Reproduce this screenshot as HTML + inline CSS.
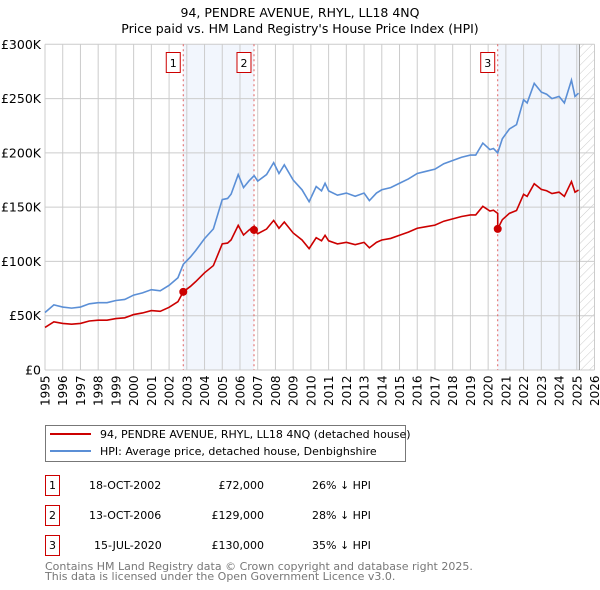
<!DOCTYPE html>
<html><head><meta charset="utf-8"><style>
body{margin:0;background:#fff;font-family:"DejaVu Sans","Liberation Sans",sans-serif;}
svg{display:block}
</style></head><body>
<svg id="chart" width="600" height="590" viewBox="0 0 600 590" xmlns="http://www.w3.org/2000/svg">
<text x="300" y="17" text-anchor="middle" font-size="12.5" fill="#000">94, PENDRE AVENUE, RHYL, LL18 4NQ</text>
<text x="300" y="33" text-anchor="middle" font-size="12.5" fill="#000">Price paid vs. HM Land Registry's House Price Index (HPI)</text>
<defs><pattern id="hatch" width="6" height="6" patternUnits="userSpaceOnUse" patternTransform="rotate(45)"><line x1="0" y1="0" x2="0" y2="6" stroke="#ccc" stroke-width="1"/></pattern></defs>
<g id="shade"></g><g id="grid"></g><g id="series"></g><g id="axes"></g>
<g>
<rect x="45.5" y="425.5" width="360" height="36" fill="#fff" stroke="#777"/>
<line x1="50" y1="434" x2="91" y2="434" stroke="#cc0000" stroke-width="2"/>
<text x="100" y="438" font-size="11">94, PENDRE AVENUE, RHYL, LL18 4NQ (detached house)</text>
<line x1="50" y1="451" x2="91" y2="451" stroke="#5b8fd6" stroke-width="2"/>
<text x="100" y="455" font-size="11">HPI: Average price, detached house, Denbighshire</text>
</g>
<g font-size="11">
<rect x="45.5" y="475.5" width="14" height="20" fill="none" stroke="#cc0000"/><text x="52.5" y="489" text-anchor="middle">1</text>
<text x="89" y="489">18-OCT-2002</text><text x="264" y="489" text-anchor="end">£72,000</text><text x="312" y="489">26% ↓ HPI</text>
<rect x="45.5" y="505.5" width="14" height="20" fill="none" stroke="#cc0000"/><text x="52.5" y="519" text-anchor="middle">2</text>
<text x="89" y="519">13-OCT-2006</text><text x="264" y="519" text-anchor="end">£129,000</text><text x="312" y="519">28% ↓ HPI</text>
<rect x="45.5" y="535.5" width="14" height="20" fill="none" stroke="#cc0000"/><text x="52.5" y="549" text-anchor="middle">3</text>
<text x="94" y="549">15-JUL-2020</text><text x="264" y="549" text-anchor="end">£130,000</text><text x="312" y="549">35% ↓ HPI</text>
</g>
<text x="45" y="570" font-size="11" fill="#777">Contains HM Land Registry data © Crown copyright and database right 2025.</text>
<text x="45" y="580" font-size="11" fill="#777">This data is licensed under the Open Government Licence v3.0.</text>
</svg>
<script>
const hpiYears=[1995,1995.5,1996,1996.5,1997,1997.5,1998,1998.5,1999,1999.5,2000,2000.5,2001,2001.5,2002,2002.5,2002.8,2003.2,2003.5,2004,2004.5,2005,2005.3,2005.5,2005.9,2006.2,2006.5,2006.8,2007,2007.5,2007.9,2008.2,2008.5,2009,2009.5,2009.9,2010.3,2010.6,2010.8,2011,2011.5,2012,2012.5,2013,2013.3,2013.7,2014,2014.5,2015,2015.5,2016,2016.5,2017,2017.5,2018,2018.5,2019,2019.3,2019.7,2020.1,2020.3,2020.54,2020.8,2021.2,2021.6,2022,2022.2,2022.6,2023,2023.3,2023.6,2024,2024.3,2024.7,2024.9,2025.1];
const hpiValues=[53,60,58,57,58,61,62,62,64,65,69,71,74,73,78,85,97.3,104,110,121,130,157,158,162,180,168,174,179,174,180,191,181,189,175,166,155,169,165,172,165,161,163,160,163,156,163,166,168,172,176,181,183,185,190,193,196,198,198,209,203,204,200,213,222,226,249,246,264,256,254,250,252,246,267,252,255];
const saleDates=[2002.8,2006.79,2020.54];
const salePrices=[72,129,130];
const yTickValues=[0,50,100,150,200,250,300];
const yTickLabels=["£0","£50K","£100K","£150K","£200K","£250K","£300K"];
const xTickYears=[1995,1996,1997,1998,1999,2000,2001,2002,2003,2004,2005,2006,2007,2008,2009,2010,2011,2012,2013,2014,2015,2016,2017,2018,2019,2020,2021,2022,2023,2024,2025,2026];
const dataEnd=2025.15;

const X0=45,X1=594.5,Y0=370,Y1=44.3;
const xs=y=>X0+(y-1995)/(2026-1995)*(X1-X0);
const ys=v=>Y0-v/300*(Y0-Y1);
const NS="http://www.w3.org/2000/svg";
function mk(tag,attrs,parent){const e=document.createElementNS(NS,tag);for(const k in attrs)e.setAttribute(k,attrs[k]);parent.appendChild(e);return e;}
function hpiAt(t){for(let i=0;i<hpiYears.length-1;i++){if(t>=hpiYears[i]&&t<=hpiYears[i+1]){const f=(t-hpiYears[i])/(hpiYears[i+1]-hpiYears[i]);return hpiValues[i]+f*(hpiValues[i+1]-hpiValues[i]);}}return hpiValues[hpiValues.length-1];}
const shade=document.getElementById('shade'),grid=document.getElementById('grid'),series=document.getElementById('series'),axes=document.getElementById('axes');
let r=mk('rect',{x:xs(saleDates[0]),y:Y1,width:xs(saleDates[1])-xs(saleDates[0]),height:Y0-Y1,fill:'#f2f6fd'},shade);


r=mk('rect',{x:xs(saleDates[2]),y:Y1,width:xs(dataEnd)-xs(saleDates[2]),height:Y0-Y1,fill:'#f2f6fd'},shade);


r=mk('rect',{x:xs(dataEnd),y:Y1,width:X1-xs(dataEnd),height:Y0-Y1,fill:'url(#hatch)'},shade);


xTickYears.forEach(yr=>{const l=mk('line',{x1:xs(yr),x2:xs(yr),y1:Y1,y2:Y0,stroke:'#ccc','stroke-width':1},grid);


const t=mk('text',{x:0,y:0,transform:`translate(${xs(yr)+4.5},${Y0+36}) rotate(-90)`,'font-size':12},axes);t.textContent=yr;

});
yTickValues.forEach((v,i)=>{const l=mk('line',{x1:X0,x2:X1,y1:ys(v),y2:ys(v),stroke:'#ccc','stroke-width':1},grid);


const t=mk('text',{x:X0-4,y:ys(v)+4.5,'text-anchor':'end','font-size':12.5},axes);t.textContent=yTickLabels[i];

});
const de=mk('line',{x1:xs(dataEnd),x2:xs(dataEnd),y1:Y1,y2:Y0,stroke:'#999','stroke-width':1},grid);


saleDates.forEach((d,i)=>{const l=mk('line',{x1:xs(d),x2:xs(d),y1:Y1,y2:Y0,stroke:'#e06060','stroke-dasharray':'2,3','stroke-width':1},series);


const b=mk('rect',{x:xs(d)-17,y:52.5,width:14,height:20,fill:'#fff',stroke:'#cc0000'},axes);


const t=mk('text',{x:xs(d)-10,y:67,'text-anchor':'middle','font-size':11},axes);t.textContent=String(i+1);

});
const hp=mk('polyline',{points:hpiYears.map((y,i)=>xs(y)+','+ys(hpiValues[i])).join(' '),fill:'none',stroke:'#5b8fd6','stroke-width':1.6},series);


const ratios=saleDates.map((d,i)=>salePrices[i]/hpiAt(d));
const pts=[];
const times=hpiYears.concat(saleDates).sort((a,b)=>a-b);
times.forEach(t=>{let k=0;for(let i=0;i<saleDates.length;i++)if(t>=saleDates[i])k=i;
if(saleDates.includes(t)){const i=saleDates.indexOf(t);if(i>0)pts.push([t,hpiAt(t)*ratios[i-1]]);pts.push([t,salePrices[i]]);}
else pts.push([t,hpiAt(t)*ratios[k]]);});
const pp=mk('polyline',{points:pts.map(p=>xs(p[0])+','+ys(p[1])).join(' '),fill:'none',stroke:'#cc0000','stroke-width':1.6},series);


saleDates.forEach((d,i)=>{const c=mk('circle',{cx:xs(d),cy:ys(salePrices[i]),r:4,fill:'#cc0000'},series);

});
</script>
</body></html>
